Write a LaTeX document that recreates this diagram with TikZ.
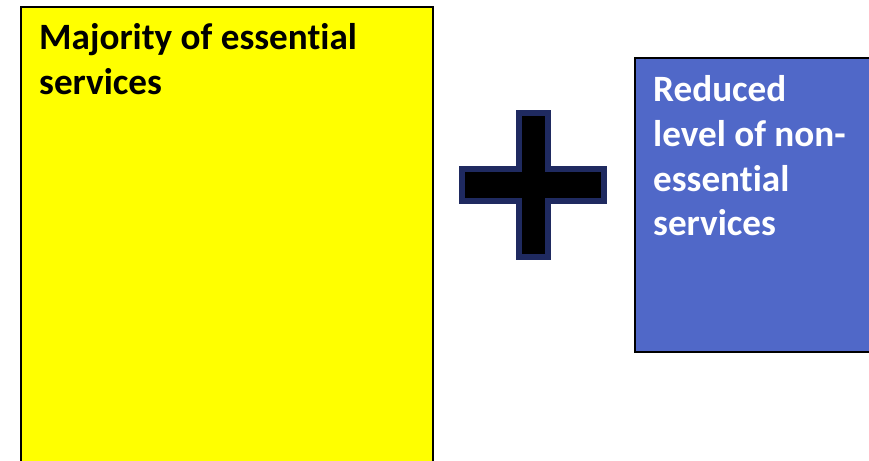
\documentclass[tikz,border=0pt]{standalone}
\usepackage{fontspec}
\setmainfont[Ligatures=NoCommon]{Carlito}
\definecolor{boxyellow}{RGB}{255,255,0}
\definecolor{boxblue}{RGB}{80,104,200}
\definecolor{plusnavy}{RGB}{31,42,96}
\begin{document}
\begin{tikzpicture}[x=1bp,y=-1bp,
  panel/.style={draw=black,line width=2bp},
  label/.style={font=\fontsize{37.3}{44.7}\selectfont\bfseries,inner sep=0pt,anchor=base west}]
\useasboundingbox (0,0) rectangle (869,461);
\clip (0,0) rectangle (869,461);
\fill[white] (0,0) rectangle (869,461);
\node[panel,fill=boxyellow,minimum width=412bp,minimum height=480bp,anchor=north west,inner sep=0pt] (ess) at (20,6) {};
\node[label,text=black] (esstext) at (39,50) {\vtop{\hbox{Majority of essential}\hbox{services}}};
\node[panel,fill=boxblue,minimum width=260bp,minimum height=294bp,anchor=north west,inner sep=0pt] (non) at (634,57) {};
\node[label,text=white] (nontext) at (653,102) {\vtop{\hbox{Reduced}\hbox{level of non-}\hbox{essential}\hbox{services}}};
\draw[fill=black,draw=plusnavy,line width=6bp]
  (519,113) -- (548,113) -- (548,169) -- (604,169) -- (604,201) -- (548,201)
  -- (548,257) -- (519,257) -- (519,201) -- (462,201) -- (462,169) -- (519,169) -- cycle;
\end{tikzpicture}
\end{document}
